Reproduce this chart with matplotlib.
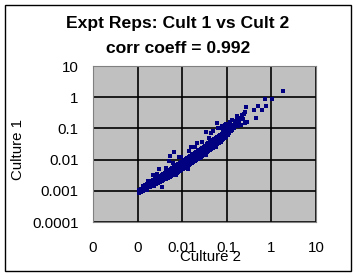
import matplotlib
matplotlib.use('Agg')
import matplotlib.pyplot as plt
from matplotlib.patches import Rectangle

plt.rcParams['font.family'] = ['Liberation Sans', 'DejaVu Sans']

## Data (Culture 2 on x, Culture 1 on y)
## dense band: one x and three y levels (lower edge, middle, upper edge)
band_x = [0.0011, 0.0012, 0.0013, 0.0014, 0.0015, 0.0016, 0.0017, 0.0019, 0.0020, 0.0022,
          0.0024, 0.0026, 0.0028, 0.0030, 0.0032, 0.0035, 0.0038, 0.0041, 0.0044, 0.0048,
          0.0052, 0.0056, 0.0060, 0.0065, 0.0070, 0.0076, 0.0082, 0.0089, 0.0096, 0.0104,
          0.0112, 0.0121, 0.0131, 0.0141, 0.0152, 0.0165, 0.0178, 0.0192, 0.0208, 0.0224,
          0.0242, 0.0262, 0.0283, 0.0305, 0.0330, 0.0356, 0.0385, 0.0415, 0.0449, 0.0485,
          0.0523, 0.0565, 0.0611, 0.0660, 0.0712, 0.0769, 0.0831, 0.0897, 0.0969, 0.1047,
          0.1130, 0.1220, 0.1318]
band_lo = [0.00085, 0.00090, 0.00100, 0.00108, 0.00118, 0.00122, 0.00128, 0.00135, 0.00148, 0.00155,
           0.00160, 0.00170, 0.00178, 0.00185, 0.00195, 0.00205, 0.00220, 0.00232, 0.00245, 0.00262,
           0.00280, 0.00295, 0.00310, 0.00330, 0.00350, 0.00380, 0.00405, 0.00440, 0.00470, 0.00500,
           0.00540, 0.00580, 0.00620, 0.00670, 0.00720, 0.00780, 0.00830, 0.0090, 0.0097, 0.0105,
           0.0113, 0.0122, 0.0132, 0.0143, 0.0157, 0.0170, 0.0187, 0.0202, 0.0222, 0.0240,
           0.0265, 0.0288, 0.0315, 0.0342, 0.0375, 0.0410, 0.0450, 0.0495, 0.0550, 0.0620,
           0.0700, 0.0800, 0.0920]
band_mid = [0.00098, 0.00104, 0.00117, 0.00125, 0.00134, 0.00142, 0.00150, 0.00163, 0.00172, 0.00185,
            0.00197, 0.00208, 0.00221, 0.00234, 0.00246, 0.00263, 0.00281, 0.00299, 0.00317, 0.00341,
            0.00364, 0.00386, 0.00408, 0.00436, 0.00469, 0.00502, 0.00541, 0.00587, 0.00634, 0.00676,
            0.00728, 0.00787, 0.00838, 0.00902, 0.00973, 0.01056, 0.01121, 0.0121, 0.0131, 0.0141,
            0.0152, 0.0165, 0.0178, 0.0192, 0.0211, 0.0228, 0.0250, 0.0270, 0.0296, 0.0320,
            0.0350, 0.0379, 0.0415, 0.0449, 0.0491, 0.0531, 0.0582, 0.0637, 0.0698, 0.0775,
            0.0859, 0.0964, 0.108]
band_hi = [0.00110, 0.00115, 0.00132, 0.00145, 0.00158, 0.00170, 0.00178, 0.00195, 0.00206, 0.00225,
           0.00240, 0.00255, 0.00270, 0.00290, 0.00305, 0.00330, 0.00350, 0.00380, 0.00400, 0.00430,
           0.00465, 0.00495, 0.00530, 0.00560, 0.00610, 0.00660, 0.00710, 0.00770, 0.00830, 0.00900,
           0.00970, 0.01050, 0.01120, 0.01210, 0.01300, 0.01410, 0.01510, 0.0163, 0.0177, 0.0190,
           0.0205, 0.0222, 0.0240, 0.0259, 0.0282, 0.0305, 0.0333, 0.0360, 0.0392, 0.0425,
           0.0460, 0.0495, 0.0540, 0.0585, 0.0635, 0.0685, 0.0745, 0.0810, 0.0880, 0.0960,
           0.1050, 0.1150, 0.1250]

## scattered points off the band
out_x = [1.8, 1.02, 0.73, 0.76, 0.50, 0.62, 0.40, 0.27, 0.26, 0.24, 0.22, 0.17, 0.45, 0.29,
         0.17, 0.20, 0.19, 0.23, 0.15, 0.21, 0.25, 0.13, 0.12, 0.14, 0.16, 0.18, 0.11, 0.145, 0.16,
         0.0036, 0.0074, 0.034, 0.056, 0.0134, 0.0112, 0.075, 0.025, 0.0023,
         0.0067, 0.005, 0.003, 0.035, 0.06, 0.0054, 0.022, 0.0085, 0.016, 0.045, 0.0022,
         0.09, 0.08, 0.05, 0.065, 0.075, 0.085, 0.10, 0.095, 0.11,
         0.0013, 0.0017, 0.0027, 0.0043, 0.0062, 0.0095, 0.0145, 0.019, 0.028, 0.040,
         0.0016, 0.0031, 0.0052, 0.0080, 0.012, 0.018, 0.027, 0.038, 0.052]
out_y = [1.6, 0.88, 0.88, 0.53, 0.53, 0.38, 0.38, 0.49, 0.34, 0.30, 0.27, 0.25, 0.21, 0.16,
         0.19, 0.22, 0.16, 0.20, 0.17, 0.13, 0.15, 0.19, 0.16, 0.13, 0.15, 0.12, 0.14, 0.105, 0.12,
         0.0013, 0.0031, 0.0137, 0.025, 0.0049, 0.0055, 0.037, 0.011, 0.0014,
         0.017, 0.0088, 0.005, 0.077, 0.15, 0.013, 0.035, 0.0125, 0.026, 0.07, 0.0032,
         0.13, 0.12, 0.08, 0.10, 0.105, 0.11, 0.12, 0.14, 0.125,
         0.0014, 0.0021, 0.0034, 0.0054, 0.0078, 0.0125, 0.019, 0.025, 0.036, 0.050,
         0.0011, 0.0020, 0.0032, 0.0047, 0.0068, 0.0100, 0.0150, 0.0205, 0.029]

ticks = [0.0001, 0.001, 0.01, 0.1, 1, 10]
xlabels = ['0', '0', '0.01', '0.1', '1', '10']
ylabels = ['0.0001', '0.001', '0.01', '0.1', '1', '10']

navy = '#000080'

fig = plt.figure(figsize=(3.57, 2.76), dpi=100)
ax = fig.add_axes([93/357., 1-222/276., 223/357., 156/276.])
ax.set_facecolor('#C0C0C0')

for ys in (band_lo, band_mid, band_hi):
    ax.scatter(band_x, ys, s=11, marker='s', c=navy, linewidths=0, zorder=3)
ax.scatter(out_x, out_y, s=5, marker='s', c=navy, linewidths=0, zorder=3)

ax.set_xscale('log'); ax.set_yscale('log')
ax.set_xlim(0.0001, 10); ax.set_ylim(0.0001, 10)
ax.set_xticks(ticks, xlabels)
ax.set_yticks(ticks, ylabels)
ax.minorticks_off()
ax.tick_params(length=0, labelsize=10.8)
ax.tick_params(axis='x', pad=13.5)
ax.tick_params(axis='y', pad=10.5)
ax.grid(True, color='black', lw=1.2, zorder=1)
ax.set_axisbelow(True)
for sp in ax.spines.values():
    sp.set_color('#808080'); sp.set_linewidth(0.8)

## titles and axis labels placed like the Excel chart
fig.text(178/357., 1-28.3/276, 'Expt Reps: Cult 1 vs Cult 2', ha='center', va='baseline',
         fontsize=12.6, fontweight='bold')
fig.text(178/357., 1-53.3/276, 'corr coeff = 0.992', ha='center', va='baseline',
         fontsize=12.6, fontweight='bold')
fig.text(210/357., 1-257/276, 'Culture 2', ha='center', va='center', fontsize=10.8)
fig.text(18.5/357., 1-150/276., 'Culture 1', ha='center', va='center', rotation=90, fontsize=10.8)

## outer chart border
fig.patches.append(Rectangle((5/357., 5/276.), 346/357., 266/276., transform=fig.transFigure,
                             fill=False, ec='black', lw=1.0))

fig.savefig('out.png', dpi=100)
